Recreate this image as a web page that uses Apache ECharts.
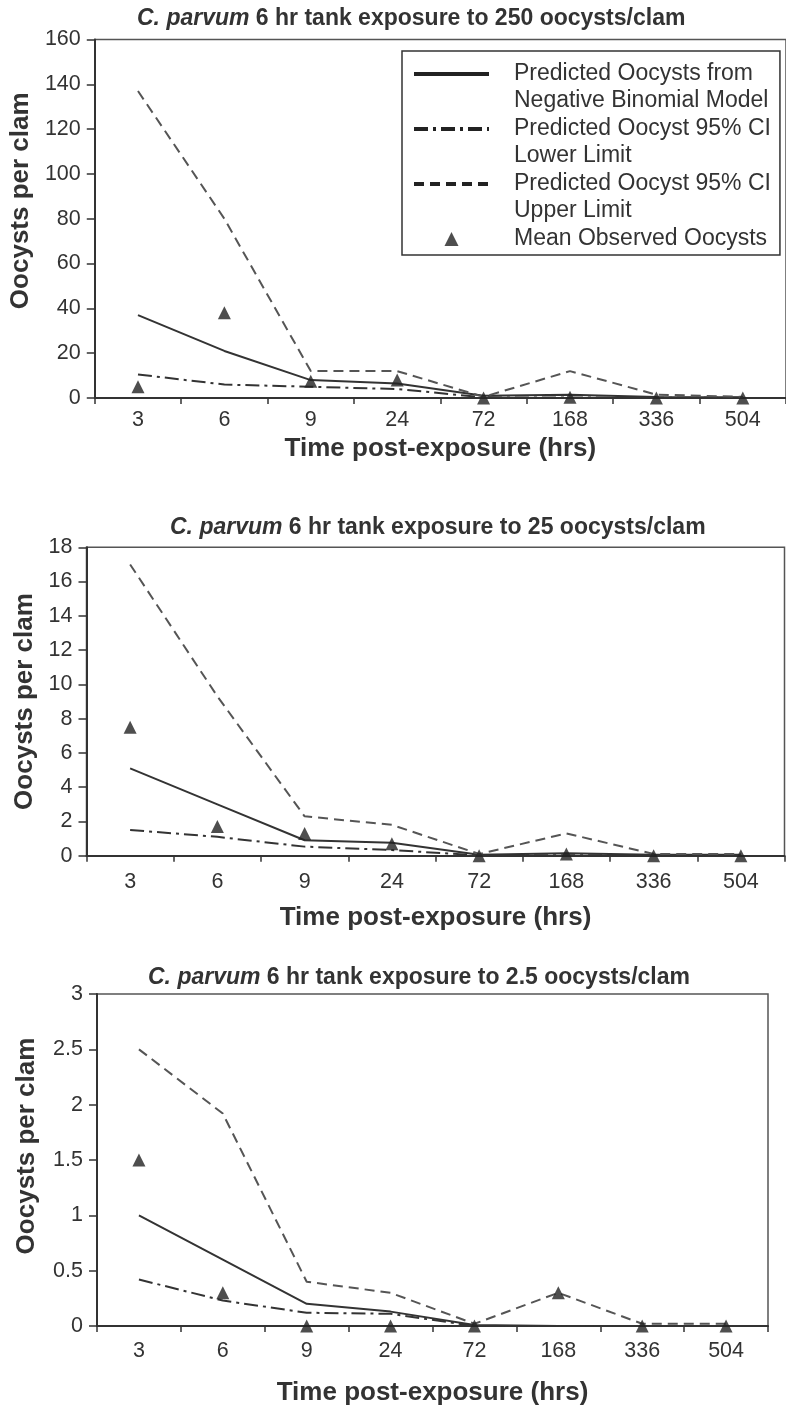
<!DOCTYPE html>
<html><head><meta charset="utf-8">
<script src="https://cdn.jsdelivr.net/npm/echarts@6/dist/echarts.min.js"></script>
<style>html,body{margin:0;padding:0;background:#fff}#c{width:786px;height:1407px}</style>
</head><body><div id="c"></div>
<script>
// ---- data ----
const categories = ['3', '6', '9', '24', '72', '168', '336', '504'];
const seriesNames = [
  'Predicted Oocysts from\nNegative Binomial Model',
  'Predicted Oocyst 95% CI\nLower Limit',
  'Predicted Oocyst 95% CI\nUpper Limit',
  'Mean Observed Oocysts'
];
const panelTitles = [
  '6 hr tank exposure to 250 oocysts/clam',
  '6 hr tank exposure to 25 oocysts/clam',
  '6 hr tank exposure to 2.5 oocysts/clam'
];
// panel 1 (250 oocysts/clam)
const p1Predicted = [37, 21, 8, 6.5, 1, 1.5, 0.5, 0.3];
const p1Lower     = [10.5, 6, 5, 4, 0.3, 0.2, 0.1, 0.1];
const p1Upper     = [137, 80, 12, 12, 0.5, 12, 1.5, 0.5];
const p1Observed  = [5, 38, 7.5, 8, 0, 0.3, 0, 0];
// panel 2 (25 oocysts/clam)
const p2Predicted = [5.1, 3, 0.9, 0.75, 0.05, 0.15, 0.05, 0.05];
const p2Lower     = [1.5, 1.1, 0.53, 0.33, 0.02, 0.02, 0.02, 0.02];
const p2Upper     = [17, 9.3, 2.3, 1.8, 0.1, 1.3, 0.1, 0.1];
const p2Observed  = [7.5, 1.7, 1.3, 0.7, 0, 0.1, 0, 0];
// panel 3 (2.5 oocysts/clam)
const p3Predicted = [1.0, 0.6, 0.2, 0.13, 0.01, 0, 0, 0];
const p3Lower     = [0.42, 0.23, 0.12, 0.11, 0, 0, 0, 0];
const p3Upper     = [2.5, 1.92, 0.4, 0.3, 0.02, 0.3, 0.02, 0.02];
const p3Observed  = [1.5, 0.3, 0, 0, 0, 0.3, 0, 0];
// y axis scales
const yMax = [160, 18, 3];
const yInterval = [20, 2, 0.5];

// ---- layout / style ----
const FONT = 'Liberation Sans';
const TXT = '#333';
const grids = [
  { left: 94, top: 39.5, width: 695, height: 358.5 },
  { left: 86.5, top: 547.3, width: 698, height: 308.4 },
  { left: 97, top: 994, width: 671, height: 332 }
];
const titlePos = [[137, 7], [170, 516], [148, 966]];
const xLabelMargin = [11.5, 15, 14.5];
const xNameGap = [38, 49, 54];
const yNameGap = [56, 46, 57];
const yNamePad = [36, 0, 28];

const panels = [
  [p1Predicted, p1Lower, p1Upper, p1Observed],
  [p2Predicted, p2Lower, p2Upper, p2Observed],
  [p3Predicted, p3Lower, p3Upper, p3Observed]
];

const lineStyles = [
  { color: '#333', width: 2, type: 'solid' },
  { color: '#333', width: 2, type: [14, 5, 3, 5] },
  { color: '#555', width: 2, type: [10, 6] }
];

const hiddenDot = { color: 'rgba(0,0,0,0)', borderColor: 'rgba(0,0,0,0)', borderWidth: 0, opacity: 0 };
const legendData = seriesNames.map((n, k) => {
  if (k < 3) return { name: n, itemStyle: hiddenDot };
  return { name: n, icon: 'path://M5,0 L10,10 L0,10 Z' };
});

const option = {
  animation: false,
  backgroundColor: '#fff',
  title: panelTitles.map((t, i) => ({
    text: '{i|C. parvum}{n| ' + t + '}',
    left: titlePos[i][0], top: titlePos[i][1], padding: 0,
    textStyle: {
      rich: {
        i: { fontStyle: 'italic', fontWeight: 'bold', fontSize: 23, fontFamily: FONT, color: TXT },
        n: { fontWeight: 'bold', fontSize: 23, fontFamily: FONT, color: TXT }
      }
    }
  })),
  grid: grids.map(g => Object.assign({ show: true, borderColor: '#555', borderWidth: 1.5, backgroundColor: 'transparent', containLabel: false }, g)),
  legend: {
    left: 402, top: 51, orient: 'vertical',
    padding: [9.5, 9, 2.5, 10],
    backgroundColor: '#fff', borderColor: '#333', borderWidth: 1.5,
    itemWidth: 75, itemHeight: 14, itemGap: 3,
    symbolKeepAspect: true,
    data: legendData,
    textStyle: {
      fontFamily: FONT, fontSize: 23, color: TXT, lineHeight: 27, height: 27,
      padding: [0, 0, 0, 20],
      rich: { t: { fontFamily: FONT, fontSize: 23, color: TXT, lineHeight: 27 } }
    },
    lineStyle: { width: 4, color: '#222' },
    itemStyle: { color: '#222' }
  },
  xAxis: grids.map((g, i) => ({
    type: 'category', gridIndex: i, data: categories, boundaryGap: true,
    axisLine: { show: true, lineStyle: { color: '#333', width: 2 } },
    axisTick: { show: true, length: 6, lineStyle: { color: '#333', width: 1.5 } },
    axisLabel: { margin: xLabelMargin[i], fontSize: 21.5, fontFamily: FONT, color: TXT },
    splitLine: { show: false },
    name: 'Time post-exposure (hrs)', nameLocation: 'middle', nameGap: xNameGap[i],
    nameTextStyle: { fontFamily: FONT, fontWeight: 'bold', fontSize: 26, color: TXT }
  })),
  yAxis: grids.map((g, i) => ({
    type: 'value', gridIndex: i, min: 0, max: yMax[i], interval: yInterval[i],
    axisLine: { show: true, lineStyle: { color: '#333', width: 2 } },
    axisTick: { show: true, length: 8, lineStyle: { color: '#333', width: 1.5 } },
    axisLabel: { margin: 14, fontSize: 21.5, fontFamily: FONT, color: TXT },
    splitLine: { show: false },
    name: 'Oocysts per clam', nameLocation: 'middle', nameGap: yNameGap[i],
    nameTextStyle: { fontFamily: FONT, fontWeight: 'bold', fontSize: 26, color: TXT, padding: [0, 0, 0, yNamePad[i]] }
  })),
  series: []
};

panels.forEach((vals, i) => {
  for (let k = 0; k < 3; k++) {
    option.series.push({
      type: 'line', name: seriesNames[k], xAxisIndex: i, yAxisIndex: i,
      data: vals[k], symbol: 'none', showSymbol: false, clip: false,
      lineStyle: lineStyles[k], itemStyle: { color: lineStyles[k].color }, z: 2
    });
  }
  option.series.push({
    type: 'scatter', name: seriesNames[3], xAxisIndex: i, yAxisIndex: i,
    data: vals[3], symbol: 'triangle', symbolSize: 13, clip: false,
    itemStyle: { color: '#222' }, z: 3
  });
});

const chart = echarts.init(document.getElementById('c'));
chart.setOption(option);
</script>
</body></html>
